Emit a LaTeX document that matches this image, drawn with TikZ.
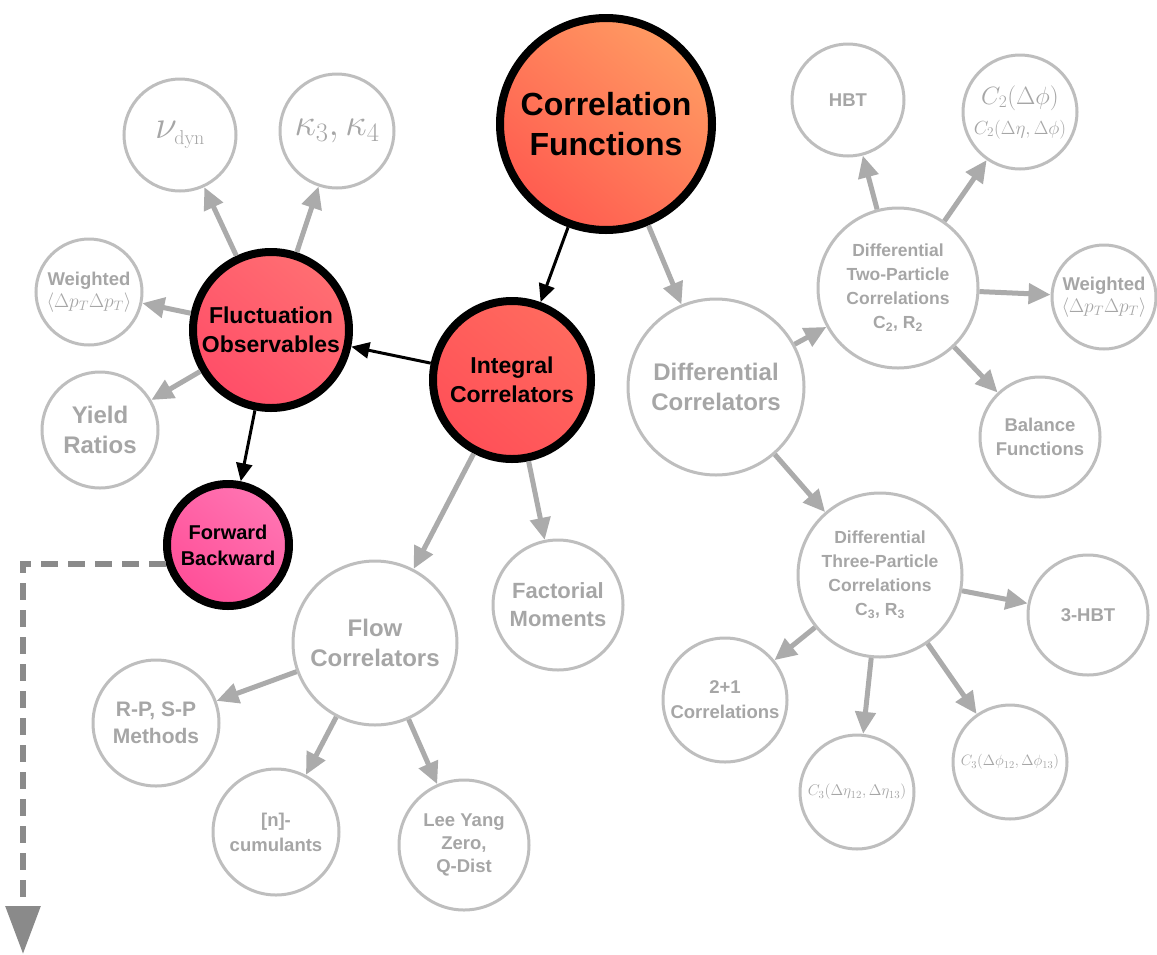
\RequirePackage{fix-cm}
\documentclass[tikz,border=0pt]{standalone}
\usepackage[no-math]{fontspec}
\setmainfont{Liberation Sans}
\usetikzlibrary{arrows.meta}
\definecolor{bordergray}{HTML}{BEBEBE}
\definecolor{txtgray}{HTML}{A6A6A6}
\definecolor{arrowgray}{HTML}{ABABAB}
\definecolor{dashgray}{HTML}{8A8A8A}
\definecolor{cfA}{HTML}{FF9A62}
\definecolor{cfB}{HTML}{FF5C50}
\definecolor{icA}{HTML}{FF6A5E}
\definecolor{icB}{HTML}{FF5058}
\definecolor{foA}{HTML}{FF6E72}
\definecolor{foB}{HTML}{FF4E68}
\definecolor{fbA}{HTML}{FF74B2}
\definecolor{fbB}{HTML}{FF4F98}
\newcommand\fsz[2]{\fontsize{#1}{#2}\selectfont}
\begin{document}
\begin{tikzpicture}[x=1pt,y=-1pt,
  gnode/.style={circle, draw=bordergray, line width=3pt, fill=white, inner sep=0pt, align=center, text=txtgray, font=\bfseries},
  rnode/.style={circle, draw=black, line width=8pt, inner sep=0pt, align=center, text=black, font=\bfseries},
  garrow/.style={draw=arrowgray, line width=5pt, -{Triangle[length=22pt,width=20pt]}},
  barrow/.style={draw=black, line width=3pt, -{Triangle[length=18pt,width=16pt]}},
  dasharrow/.style={draw=dashgray, line width=6pt, dash pattern=on 17pt off 10pt, -{Triangle[length=48pt,width=34pt]}}
]
\useasboundingbox (0,0) rectangle (1157,954);

% red nodes
\node[rnode, minimum size=212pt, top color=cfA, bottom color=cfB, shading angle=-40, font=\bfseries\fsz{32}{40}] (cf) at (606,124) {Correlation\\Functions};
\node[rnode, minimum size=158pt, top color=icA, bottom color=icB, shading angle=-40, font=\bfseries\fsz{23}{29}] (ic) at (512,380) {Integral\\Correlators};
\node[rnode, minimum size=156pt, top color=foA, bottom color=foB, shading angle=-40, font=\bfseries\fsz{23}{29}] (fo) at (271,330) {Fluctuation\\Observables};
\node[rnode, minimum size=122pt, top color=fbA, bottom color=fbB, shading angle=-40, font=\bfseries\fsz{20}{26}] (fb) at (228,545) {Forward\\Backward};

% gray nodes
\node[gnode, minimum size=176pt, font=\bfseries\fsz{24}{30}] (dc) at (716,387) {Differential\\Correlators};
\node[gnode, minimum size=160pt, font=\bfseries\fsz{17.5}{24}] (d2) at (898,288) {Differential\\Two-Particle\\Correlations\\C\textsubscript{2}, R\textsubscript{2}};
\node[gnode, minimum size=112pt, font=\bfseries\fsz{18.5}{24}] (hbt) at (848,100) {HBT};
\node[gnode, minimum size=114pt, font=\fsz{19}{30}] (c2) at (1020,112) {{\fsz{25}{30}$C_2(\Delta\phi)$}\\{\fsz{19}{24}$C_2(\Delta\eta,\Delta\phi)$}};
\node[gnode, minimum size=104pt, font=\bfseries\fsz{18.5}{22}] (w2) at (1104,297) {Weighted\\{\fsz{19.5}{22}$\langle\Delta p_T\Delta p_T\rangle$}};
\node[gnode, minimum size=120pt, font=\bfseries\fsz{18.5}{24}] (bal) at (1040,437) {Balance\\Functions};
\node[gnode, minimum size=164pt, font=\bfseries\fsz{17.5}{24}] (d3) at (880,575) {Differential\\Three-Particle\\Correlations\\C\textsubscript{3}, R\textsubscript{3}};
\node[gnode, minimum size=120pt, font=\bfseries\fsz{18.5}{24}] (hbt3) at (1088,615) {3-HBT};
\node[gnode, minimum size=124pt, font=\bfseries\fsz{18.5}{25}] (c21) at (725,700) {2+1\\Correlations};
\node[gnode, minimum size=114pt, font=\fsz{15.5}{20}] (c3e) at (857,792) {$C_3(\Delta\eta_{12},\Delta\eta_{13})$};
\node[gnode, minimum size=114pt, font=\fsz{15}{20}] (c3p) at (1010,762) {$C_3(\Delta\phi_{12},\Delta\phi_{13})$};
\node[gnode, minimum size=130pt, font=\bfseries\fsz{22}{28}] (fm) at (558,605) {Factorial\\Moments};
\node[gnode, minimum size=164pt, font=\bfseries\fsz{24}{30}] (flow) at (375,643) {Flow\\Correlators};
\node[gnode, minimum size=126pt, font=\bfseries\fsz{21}{27}] (rp) at (156,723) {R-P, S-P\\Methods};
\node[gnode, minimum size=126pt, font=\bfseries\fsz{18.5}{25}] (cum) at (276,832) {[n]-\\cumulants};
\node[gnode, minimum size=130pt, font=\bfseries\fsz{18.5}{23}] (ly) at (464,845) {Lee Yang\\Zero,\\Q-Dist};
\node[gnode, minimum size=112pt, font=\fsz{40}{40}] (nu) at (180,135) {$\nu_{\scriptscriptstyle\mathrm{dyn}}$};
\node[gnode, minimum size=114pt, font=\fsz{38}{38}] (ka) at (337,131) {$\kappa_3,\kappa_4$};
\node[gnode, minimum size=106pt, font=\bfseries\fsz{18.5}{22}] (w1) at (89,292) {Weighted\\{\fsz{19.5}{22}$\langle\Delta p_T\Delta p_T\rangle$}};
\node[gnode, minimum size=116pt, font=\bfseries\fsz{24}{30}] (yr) at (100,430) {Yield\\Ratios};

% black arrows
\draw[barrow] (cf) -- (ic);
\draw[barrow] (ic) -- (fo);
\draw[barrow] (fo) -- (fb);

% gray arrows
\draw[garrow] (cf) -- (dc);
\draw[garrow] (fo) -- (nu);
\draw[garrow] (fo) -- (ka);
\draw[garrow] (fo) -- (w1);
\draw[garrow] (fo) -- (yr);
\draw[garrow] (ic) -- (flow);
\draw[garrow] (ic) -- (fm);
\draw[garrow] (dc) -- (d2);
\draw[garrow] (dc) -- (d3);
\draw[garrow] (d2) -- (hbt);
\draw[garrow] (d2) -- (c2);
\draw[garrow] (d2) -- (w2);
\draw[garrow] (d2) -- (bal);
\draw[garrow] (d3) -- (hbt3);
\draw[garrow] (d3) -- (c21);
\draw[garrow] (d3) -- (c3e);
\draw[garrow] (d3) -- (c3p);
\draw[garrow] (flow) -- (rp);
\draw[garrow] (flow) -- (cum);
\draw[garrow] (flow) -- (ly);

% dashed arrow
\coordinate (dend) at (23,954);
\draw[dasharrow] (fb.197) -| (dend);
\end{tikzpicture}
\end{document}
